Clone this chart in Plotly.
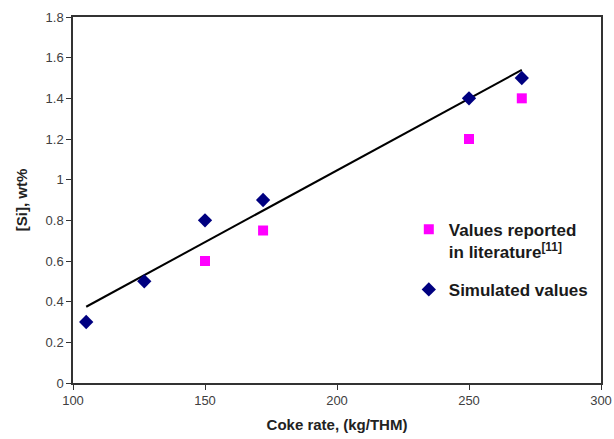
import plotly.graph_objects as go

sim_x = [105, 127, 150, 172, 250, 270]
sim_y = [0.3, 0.5, 0.8, 0.9, 1.4, 1.5]
lit_x = [150, 172, 250, 270]
lit_y = [0.6, 0.75, 1.2, 1.4]
fit_x = [105, 270]
fit_y = [0.375, 1.54]

x_ticks = [100, 150, 200, 250, 300]
y_ticks = [0, 0.2, 0.4, 0.6, 0.8, 1.0, 1.2, 1.4, 1.6, 1.8]
y_labels = ["0", "0.2", "0.4", "0.6", "0.8", "1", "1.2", "1.4", "1.6", "1.8"]

fig = go.Figure()
fig.add_trace(go.Scatter(x=fit_x, y=fit_y, mode="lines",
                         line=dict(color="black", width=2), showlegend=False))
fig.add_trace(go.Scatter(x=lit_x, y=lit_y, mode="markers", legendgroup="lit",
                         name="Values reported<br>in literature<sup>[11]</sup>",
                         marker=dict(symbol="square", size=10, color="#ff00ff")))
fig.add_trace(go.Scatter(x=sim_x, y=sim_y, mode="markers", legendgroup="sim",
                         name="Simulated values",
                         marker=dict(symbol="diamond", size=11, color="#000080")))

axis_common = dict(showgrid=False, zeroline=False, showline=True, linecolor="#333333",
                   linewidth=1.5, mirror=True, ticks="outside", ticklen=5, automargin=False,
                   tickcolor="#333333", tickfont=dict(family="Liberation Sans", size=13, color="#404040"))

fig.update_xaxes(range=[100, 300], tickvals=x_ticks, ticktext=[str(v) for v in x_ticks],
                 title=dict(text="<b>Coke rate, (kg/THM)</b>", font=dict(family="Liberation Sans", size=15, color="#222222"), standoff=12),
                 **axis_common)
fig.update_yaxes(range=[0, 1.8], tickvals=y_ticks, ticktext=y_labels,
                 title=dict(text="<b>[Si], wt%</b>", font=dict(family="Liberation Sans", size=15, color="#222222"), standoff=14),
                 **axis_common)

fig.update_layout(
    width=614, height=439,
    margin=dict(l=73, r=13, t=17, b=56),
    plot_bgcolor="white", paper_bgcolor="white",
    legend=dict(x=0.636, y=0.468, xanchor="left", yanchor="top",
                bgcolor="rgba(0,0,0,0)", valign="top", traceorder="grouped",
                tracegroupgap=13, itemwidth=30,
                font=dict(family="Liberation Sans", size=17, color="#1a1a1a", weight="bold")),
)

fig.write_html("out.html", config={"displayModeBar": False},
               post_script="document.body.style.margin='0';")
